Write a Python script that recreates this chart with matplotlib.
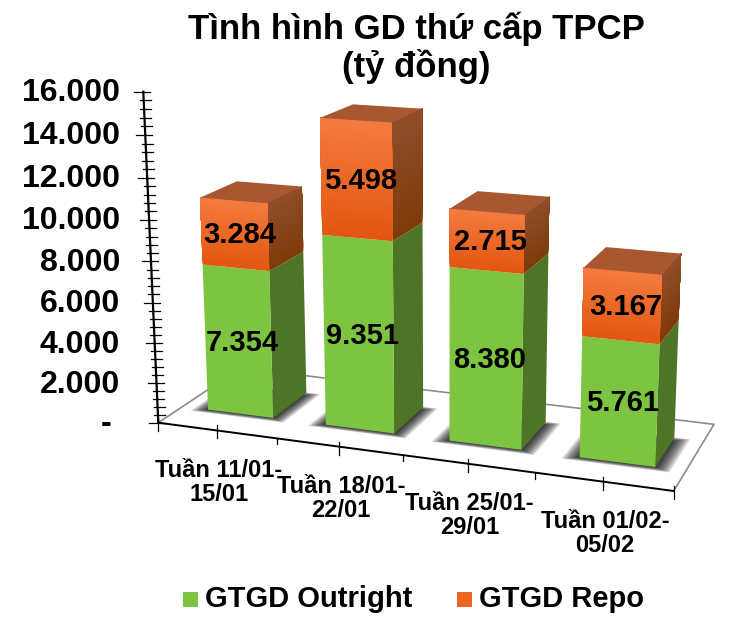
import matplotlib
matplotlib.use("Agg")
import matplotlib.pyplot as plt
from matplotlib.patches import Polygon
import numpy as np

# Data
categories = ["Tuần 11/01-\n15/01", "Tuần 18/01-\n22/01", "Tuần 25/01-\n29/01", "Tuần 01/02-\n05/02"]
outright = [7354, 9351, 8380, 5761]
repo = [3284, 5498, 2715, 3167]
outright_labels = ["7.354", "9.351", "8.380", "5.761"]
repo_labels = ["3.284", "5.498", "2.715", "3.167"]
y_ticks = [0, 2000, 4000, 6000, 8000, 10000, 12000, 14000, 16000]
y_tick_labels = ["-", "2.000", "4.000", "6.000", "8.000", "10.000", "12.000", "14.000", "16.000"]
y_max = 16000

plt.rcParams["font.family"] = ["Liberation Sans", "DejaVu Sans"]
plt.rcParams["font.weight"] = "bold"

fig = plt.figure(figsize=(7.33, 6.30), dpi=100)
ax = fig.add_axes([0, 0, 1, 1])
ax.set_xlim(0, 733)
ax.set_ylim(630, 0)
ax.axis("off")

# Perspective of the 3D box: floor corners and where the verticals converge
FL, FR, BR, BL = (158.3, 422.7), (673.7, 491.0), (714.0, 424.3), (240.5, 368.0)
VANISH = (444.0, 6731.0)
TOP_Y = 91.7


def floor_homography():
    src = [(0, 0), (1, 0), (1, 1), (0, 1)]
    dst = [FL, FR, BR, BL]
    a, b = [], []
    for (u, v), (x, y) in zip(src, dst):
        a.append([u, v, 1, 0, 0, 0, -u * x, -v * x])
        a.append([0, 0, 0, u, v, 1, -u * y, -v * y])
        b += [x, y]
    return np.append(np.linalg.solve(np.array(a), np.array(b)), 1).reshape(3, 3)


H = floor_homography()
lam = (TOP_Y - FL[1]) / (VANISH[1] - TOP_Y)
Pz = lam * np.array([VANISH[0], VANISH[1], 1.0])


def proj(u, v, val=0.0):
    p = H @ np.array([u, v, 1.0]) + Pz * (val / y_max)
    return p[0] / p[2], p[1] / p[2]


# Floor and axes
ax.plot(*zip(FL, BL, BR, FR), color="#8c8c8c", lw=1.2, zorder=1)
ax.plot(*zip(FL, FR), color="black", lw=1.4, zorder=1)
ax.plot(*zip(proj(0, 0), proj(0, 0, y_max)), color="black", lw=1.6, zorder=1)

for k in range(9):
    x, y = proj(k / 8, 0)
    up = 0 if k in (2, 4, 6) else 5
    down = 6 if k in (2, 4, 6) else 8
    ax.plot([x, x], [y - up, y + down], color="black", lw=0.9, zorder=1)

for val in range(0, y_max + 1, 400):
    x, y = proj(0, 0, val)
    left = 9 if val % 2000 == 0 else 4
    ax.plot([x - left, x + 7], [y, y], color="black", lw=0.9, zorder=1)

for val, lab in zip(y_ticks, y_tick_labels):
    x, y = proj(0, 0, val)
    ax.text(111 if lab == "-" else 120, y + 1.5, lab, ha="right", va="center", fontsize=23, zorder=5)

bar_w = 0.56 / 4
v0, v1 = 0.28, 0.72
label_v = 0.3


def shadow(u0, u1, zorder):
    n = 22
    for i in range(n):
        g = (n - i) / n
        pts = [proj(u0 - g * 0.03, v0 - g * 0.05), proj(u1 + g * 0.03, v0 - g * 0.05),
               proj(u1 + g * 0.03, v1 - 0.04 + g * 0.05), proj(u0 - g * 0.03, v1 - 0.04 + g * 0.05)]
        ax.add_patch(Polygon(pts, fc="black", ec="none", alpha=0.06, zorder=zorder))


def quad(pts, color, zorder):
    ax.add_patch(Polygon(pts, fc=color, ec="none", zorder=zorder))


def mix(c0, c1, t):
    return tuple(np.array(c0) * (1 - t) + np.array(c1) * t)


def rgb(h):
    return matplotlib.colors.to_rgb(h)


def segment(u0, u1, low, high, front_top, front_bot, side_top, side_bot, zorder):
    # gradient from strips painted bottom up, each one reaching the top of the segment
    n = 40 if front_top != front_bot else 1
    edges = np.linspace(low, high, n + 1)
    for j in range(n):
        a = edges[j]
        t = (j + 0.5) / n
        quad([proj(u1, v0, a), proj(u1, v1, a), proj(u1, v1, high), proj(u1, v0, high)],
             mix(rgb(side_bot), rgb(side_top), t), zorder)
        quad([proj(u0, v0, a), proj(u1, v0, a), proj(u1, v0, high), proj(u0, v0, high)],
             mix(rgb(front_bot), rgb(front_top), t), zorder + 0.1)


for i in range(len(categories)):
    uc = (i + 0.5) / len(categories)
    u0, u1 = uc - bar_w / 2, uc + bar_w / 2
    total = outright[i] + repo[i]
    z = 2 + i
    shadow(u0, u1, z)
    segment(u0, u1, 0, outright[i], "#7DC540", "#7DC540", "#4E7428", "#4E7428", z + 0.2)
    segment(u0, u1, outright[i], total, "#F47B40", "#E2560F", "#8F4E2A", "#7E3A08", z + 0.2)
    quad([proj(u0, v0, total), proj(u1, v0, total), proj(u1, v1, total), proj(u0, v1, total)],
         "#A85830", z + 0.4)

    x, y = proj(uc, label_v, outright[i] / 2)
    ax.text(x + 3, y + 2, outright_labels[i], ha="center", va="center", fontsize=21, zorder=8)
    x, y = proj(uc, label_v, outright[i] + repo[i] / 2)
    ax.text(x + 3, y + 2, repo_labels[i], ha="center", va="center", fontsize=21, zorder=8)

    x, y = proj(uc, 0)
    ax.text(x + 2, y + 52, categories[i], ha="center", va="center", fontsize=17,
            linespacing=1.05, zorder=5)

# Title
ax.text(416, 48, "Tình hình GD thứ cấp TPCP\n(tỷ đồng)", ha="center", va="center",
        fontsize=25, linespacing=1.1, zorder=5)

# Legend
ax.add_patch(Polygon([(183, 592), (198, 592), (198, 607), (183, 607)], fc="#7DC540", ec="none"))
ax.text(205, 599, "GTGD Outright", ha="left", va="center", fontsize=21)
ax.add_patch(Polygon([(457, 592), (472, 592), (472, 607), (457, 607)], fc="#EC6422", ec="none"))
ax.text(479, 599, "GTGD Repo", ha="left", va="center", fontsize=21)

fig.savefig("out.png", dpi=100)
plt.close(fig)
